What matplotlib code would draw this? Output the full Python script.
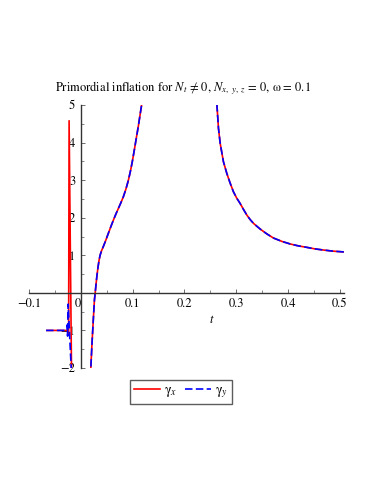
import numpy as np
import matplotlib
matplotlib.use("Agg")
import matplotlib.pyplot as plt
from matplotlib.ticker import MultipleLocator, FixedLocator

plt.rcParams['font.family'] = ['STIXGeneral', 'DejaVu Serif']
plt.rcParams['mathtext.fontset'] = 'stix'

# ---- data ----
# left regular branch (both curves coincide)
t_left = [0.0185, 0.0215, 0.0245, 0.0263, 0.0276, 0.0292, 0.0309, 0.0330, 0.0350,
          0.0372, 0.0400, 0.0437, 0.0485, 0.0533, 0.0582, 0.0630, 0.0678, 0.0726,
          0.0774, 0.0822, 0.0870, 0.0915, 0.0955, 0.0995, 0.1035, 0.1075, 0.1112,
          0.1145, 0.1178, 0.1210]
y_left = [-2.25, -1.37, -0.62, -0.19, -0.02, 0.20, 0.43, 0.66, 0.85,
          1.00, 1.12, 1.24, 1.41, 1.59, 1.77, 1.94, 2.10, 2.25,
          2.40, 2.56, 2.76, 2.98, 3.22, 3.50, 3.82, 4.15, 4.45,
          4.75, 5.04, 5.35]
# right branch (both curves coincide)
t_right = [0.2600, 0.2625, 0.2657, 0.2690, 0.2753, 0.2818, 0.2880, 0.2946, 0.3010,
           0.3075, 0.3140, 0.3205, 0.3269, 0.3333, 0.3400, 0.3461, 0.3590, 0.3718,
           0.3880, 0.4044, 0.4200, 0.4366, 0.4520, 0.4683, 0.4870, 0.5070, 0.5150]
y_right = [5.60, 5.05, 4.38, 3.98, 3.49, 3.18, 2.93, 2.69, 2.52,
           2.38, 2.22, 2.07, 1.95, 1.85, 1.77, 1.70, 1.57, 1.46,
           1.37, 1.30, 1.25, 1.21, 1.17, 1.14, 1.11, 1.09, 1.08]
# singular region near t = -0.02
t_spike_x = [-0.067, -0.050, -0.030, -0.026, -0.0235, -0.0226, -0.0178]
y_spike_x = [-1.0, -1.0, -1.0, -1.0, -1.1, 4.58, -2.3]
t_spike_y = [-0.067, -0.045, -0.0265, -0.026, -0.0255, -0.0245, -0.0175]
y_spike_y = [-1.0, -1.0, -1.0, -0.85, -1.15, -0.3, -2.3]

labels = ['\u03b3$_x$', '\u03b3$_y$']
title = 'Primordial inflation for $N_t$ \u2260 0, $N_{x,\\ y,\\ z}$ = 0, \u03c9 = 0.1'

fig = plt.figure(figsize=(3.74, 4.84), dpi=100)
ax = fig.add_axes([29/374, 116/484, (344-29)/374, (368-105)/484])

lw = 1.2
red = '#ff0000'
blue = '#0000ff'
dash = (4.5, 2.0)

for tt, yy in [(t_left, y_left), (t_right, y_right), (t_spike_x, y_spike_x)]:
    ax.plot(tt, yy, color=red, lw=lw, solid_capstyle='butt')
lx, = ax.plot([], [], color=red, lw=lw)
for tt, yy in [(t_left, y_left), (t_right, y_right), (t_spike_y, y_spike_y)]:
    ax.plot(tt, yy, color=blue, lw=lw, dashes=dash)
ly, = ax.plot([], [], color=blue, lw=lw, dashes=dash)

ax.set_xlim(-0.1, 0.508)
ax.set_ylim(-2, 5)

for s in ['top', 'right']:
    ax.spines[s].set_visible(False)
ax.spines['left'].set_position(('data', 0))
ax.spines['bottom'].set_position(('data', 0))
for s in ['left', 'bottom']:
    ax.spines[s].set_color('#333333')
    ax.spines[s].set_linewidth(1.0)

ax.xaxis.set_major_locator(FixedLocator([-0.1, 0, 0.1, 0.2, 0.3, 0.4, 0.5]))
ax.xaxis.set_minor_locator(MultipleLocator(0.05))
ax.yaxis.set_major_locator(FixedLocator([-2, -1, 1, 2, 3, 4, 5]))
ax.yaxis.set_minor_locator(MultipleLocator(0.5))
ax.set_xticklabels(['\u22120.1', '0', '0.1', '0.2', '0.3', '0.4', '0.5'])
ax.set_yticklabels(['\u22122', '\u22121', '1', '2', '3', '4', '5'])
ax.tick_params(axis='both', which='both', direction='in', color='#555555',
               labelsize=9, labelcolor='black')
ax.tick_params(axis='both', which='major', length=3, width=0.6, pad=4)
ax.tick_params(axis='both', which='minor', length=2, width=0.5)
for lab in ax.get_xticklabels():
    if lab.get_text() == '0':
        lab.set_horizontalalignment('right')

ax.text(0.253, -0.72, r'$t$', fontsize=9, ha='center', va='center')

fig.text(0.488, 0.818, title, ha='center', va='center', fontsize=9)

leg = fig.legend([lx, ly], labels, loc='center', bbox_to_anchor=(181/374, 1-392/484),
                 ncol=2, frameon=True, fancybox=False, fontsize=10,
                 handlelength=1.9, columnspacing=0.5, handletextpad=0.3,
                 borderpad=0.25, borderaxespad=0)
leg.get_frame().set_edgecolor('#333333')
leg.get_frame().set_linewidth(1.0)

fig.savefig('out.png', dpi=100)
